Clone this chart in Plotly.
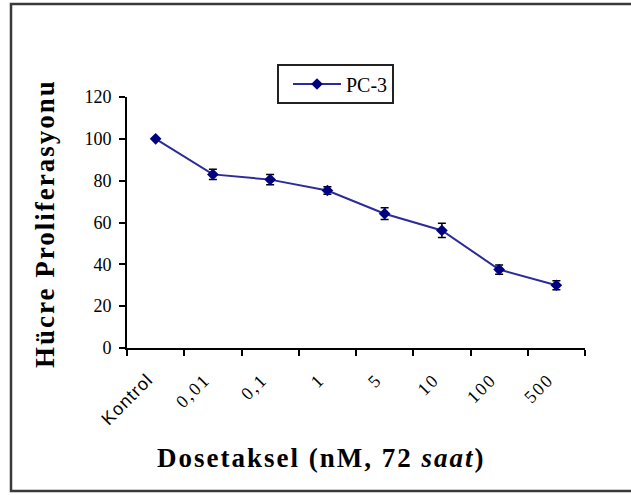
import plotly.graph_objects as go

categories = ["Kontrol", "0,01", "0,1", "1", "5", "10", "100", "500"]
tick_labels = ["Kontrol", "0,01", "0,1", "1", "5", "10", "100", "500"]
pc3_values = [100, 83.0, 80.5, 75.3, 64.2, 56.2, 37.5, 30.0]
pc3_errors = [0, 2.4, 2.4, 1.8, 2.8, 3.4, 2.2, 2.2]
y_ticks = [0, 20, 40, 60, 80, 100, 120]

W, H = 631, 495
L, R, T, B = 127, 585, 97, 348

def px_x(p):
    return (p - L) / (R - L)

def px_y(p):
    return (B - p) / (B - T)

serif = "Liberation Serif"

def styled_tick(label):
    if label == "Kontrol":
        return '<span style="font-family:Liberation Sans;letter-spacing:1px">%s</span>' % label
    return '<span style="letter-spacing:2px">%s</span>' % label

fig = go.Figure()
fig.add_trace(go.Scatter(
    x=categories, y=pc3_values, name="PC-3",
    mode="lines+markers",
    line=dict(color="#2B2B9A", width=2),
    marker=dict(symbol="diamond", size=9, color="#000080"),
    error_y=dict(type="data", array=pc3_errors, visible=True,
                 color="black", thickness=1.5, width=4),
))

fig.update_layout(
    width=W, height=H,
    margin=dict(l=L, r=W - R, t=T, b=H - B),
    paper_bgcolor="white", plot_bgcolor="white",
    font=dict(family=serif, size=16, color="black"),
    showlegend=True,
    legend=dict(
        x=px_x(288), y=px_y(84), xanchor="left", yanchor="middle",
        bgcolor="rgba(0,0,0,0)", borderwidth=0,
        font=dict(family=serif, size=20, color="black"),
        itemwidth=48,
    ),
    xaxis=dict(
        type="category", categoryorder="array", categoryarray=categories,
        tickvals=categories, ticktext=[styled_tick(t) for t in tick_labels],
        range=[-0.5, 7.5], tickson="boundaries",
        showline=True, linecolor="black", linewidth=2,
        ticks="outside", ticklen=6, tickwidth=2, tickcolor="black",
        tickangle=-45, tickfont=dict(family=serif, size=18, color="black"),
        ticklabelstandoff=12, ticklabelshift=-8,
        showgrid=False, zeroline=False,
    ),
    yaxis=dict(
        range=[0, 120], tickvals=y_ticks,
        showline=True, linecolor="black", linewidth=2,
        ticks="outside", ticklen=6, tickwidth=2, tickcolor="black",
        tickfont=dict(family=serif, size=18, color="black"),
        ticklabelstandoff=4,
        showgrid=False, zeroline=False,
    ),
)

fig.add_annotation(
    text='<span style="letter-spacing:2px">Hücre Proliferasyonu</span>',
    xref="paper", yref="paper", x=px_x(45), y=px_y(224),
    xanchor="center", yanchor="middle", textangle=-90, showarrow=False,
    font=dict(family=serif, size=27, color="black", weight="bold"),
)
fig.add_annotation(
    text='<span style="letter-spacing:2px">Dosetaksel (nM, 72 <i>saat</i>)</span>',
    xref="paper", yref="paper", x=px_x(321), y=px_y(458),
    xanchor="center", yanchor="middle", showarrow=False,
    font=dict(family=serif, size=27, color="black", weight="bold"),
)

# legend frame
fig.add_shape(
    type="rect", xref="paper", yref="paper",
    x0=px_x(278), x1=px_x(393), y0=px_y(103), y1=px_y(65),
    line=dict(color="#222222", width=2),
)
# outer chart frame
fig.add_shape(
    type="rect", xref="paper", yref="paper",
    x0=px_x(11), x1=px_x(640), y0=px_y(491), y1=px_y(4),
    line=dict(color="#3a3a3a", width=2.5), layer="below",
)

fig.write_html("out.html")
